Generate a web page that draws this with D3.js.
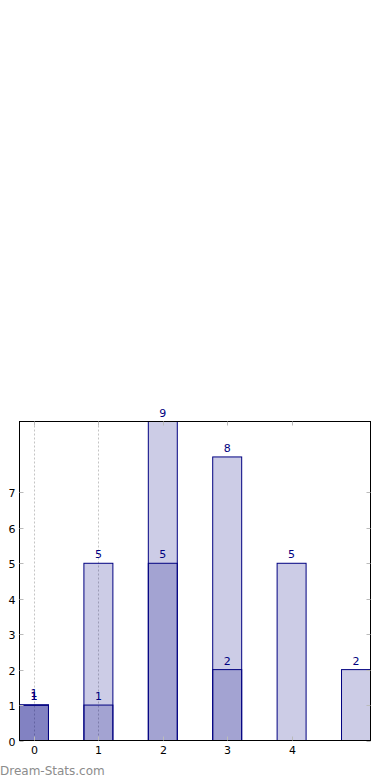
<!DOCTYPE html>
<html><head><meta charset="utf-8">
<script src="https://cdn.jsdelivr.net/npm/d3@7"></script>
<style>body{margin:0;background:#fff;}svg{display:block;}</style>
</head><body>
<script>
const categories = [0, 1, 2, 3, 4, 5];
const seriesTotal = [1, 5, 9, 8, 5, 2];
const seriesSub = [1, 1, 5, 2, 0, 0];
const seriesExtra = [1, 0, 0, 0, 0, 0];
const xTickLabels = ["0", "1", "2", "3", "4"];
const yTickValues = [0, 1, 2, 3, 4, 5, 6, 7];
const gridCategories = [0, 1];

(function () {
const W = 390, H = 780;
const pL = 19.5, pR = 370.5, pT = 421.5, pB = 740.5;
const barW = 0.45;
const svg = d3.select("body").append("svg").attr("width", W).attr("height", H);
const x = d3.scaleLinear().domain([-barW/2, categories.length - 1 + barW/2]).range([pL, pR]);
const y = d3.scaleLinear().domain([0, 9]).range([pB, pT]);
const font = "DejaVu Sans, sans-serif";

// grid
svg.append("g").selectAll("line").data(gridCategories).join("line")
  .attr("x1", d => Math.round(x(d)) + 0.5).attr("x2", d => Math.round(x(d)) + 0.5)
  .attr("y1", pT).attr("y2", pB)
  .attr("stroke", "#c4c4c4").attr("stroke-width", 1).attr("stroke-dasharray", "2,2");

function drawSeries(vals) {
  const g = svg.append("g");
  const data = categories.map((c, i) => ({c, v: vals[i]})).filter(d => d.v > 0);
  g.selectAll("rect").data(data).join("rect")
    .attr("x", d => x(d.c - barW/2)).attr("width", d => x(d.c + barW/2) - x(d.c - barW/2))
    .attr("y", d => y(d.v)).attr("height", d => y(0) - y(d.v))
    .attr("fill", "rgba(0,0,128,0.2)").attr("stroke", "#000080").attr("stroke-width", 1);
  return data;
}
function drawLabels(data, labelDy) {
  svg.append("g").selectAll("text").data(data).join("text")
    .attr("x", d => x(d.c)).attr("y", d => y(d.v) + labelDy)
    .attr("text-anchor", "middle").attr("font-family", font).attr("font-size", 11)
    .attr("fill", "#000080").text(d => d.v);
}
const dT = drawSeries(seriesTotal);
const dS = drawSeries(seriesSub);
const dE = drawSeries(seriesExtra);
drawLabels(dT, -5);
drawLabels(dS, -5);
drawLabels(dE, -8);

// frame
svg.append("rect").attr("x", pL).attr("y", pT).attr("width", pR - pL).attr("height", pB - pT)
  .attr("fill", "none").attr("stroke", "#000").attr("stroke-width", 1);

// y ticks
const yt = svg.append("g");
yTickValues.forEach(v => {
  const py = Math.round(y(v)) + 0.5;
  yt.append("line").attr("x1", pL).attr("x2", pL + 4).attr("y1", py).attr("y2", py).attr("stroke", "#bbb");
  yt.append("line").attr("x1", pR - 4).attr("x2", pR).attr("y1", py).attr("y2", py).attr("stroke", "#bbb");
  yt.append("text").attr("x", pL - 4).attr("y", py + 4).attr("text-anchor", "end")
    .attr("font-family", font).attr("font-size", 11).attr("fill", "#000").text(v);
});
// x ticks
const xt = svg.append("g");
xTickLabels.forEach((lab, i) => {
  const px = Math.round(x(i)) + 0.5;
  xt.append("line").attr("x1", px).attr("x2", px).attr("y1", pB).attr("y2", pB - 4).attr("stroke", "#bbb");
  xt.append("line").attr("x1", px).attr("x2", px).attr("y1", pT).attr("y2", pT + 4).attr("stroke", "#bbb");
  xt.append("text").attr("x", px).attr("y", pB + 13).attr("text-anchor", "middle")
    .attr("font-family", font).attr("font-size", 11).attr("fill", "#000").text(lab);
});

svg.append("text").attr("x", 0).attr("y", 775).attr("font-family", font).attr("font-size", 12)
  .attr("fill", "#8c8c8c").text("Dream-Stats.com");
})();
</script>
</body></html>
